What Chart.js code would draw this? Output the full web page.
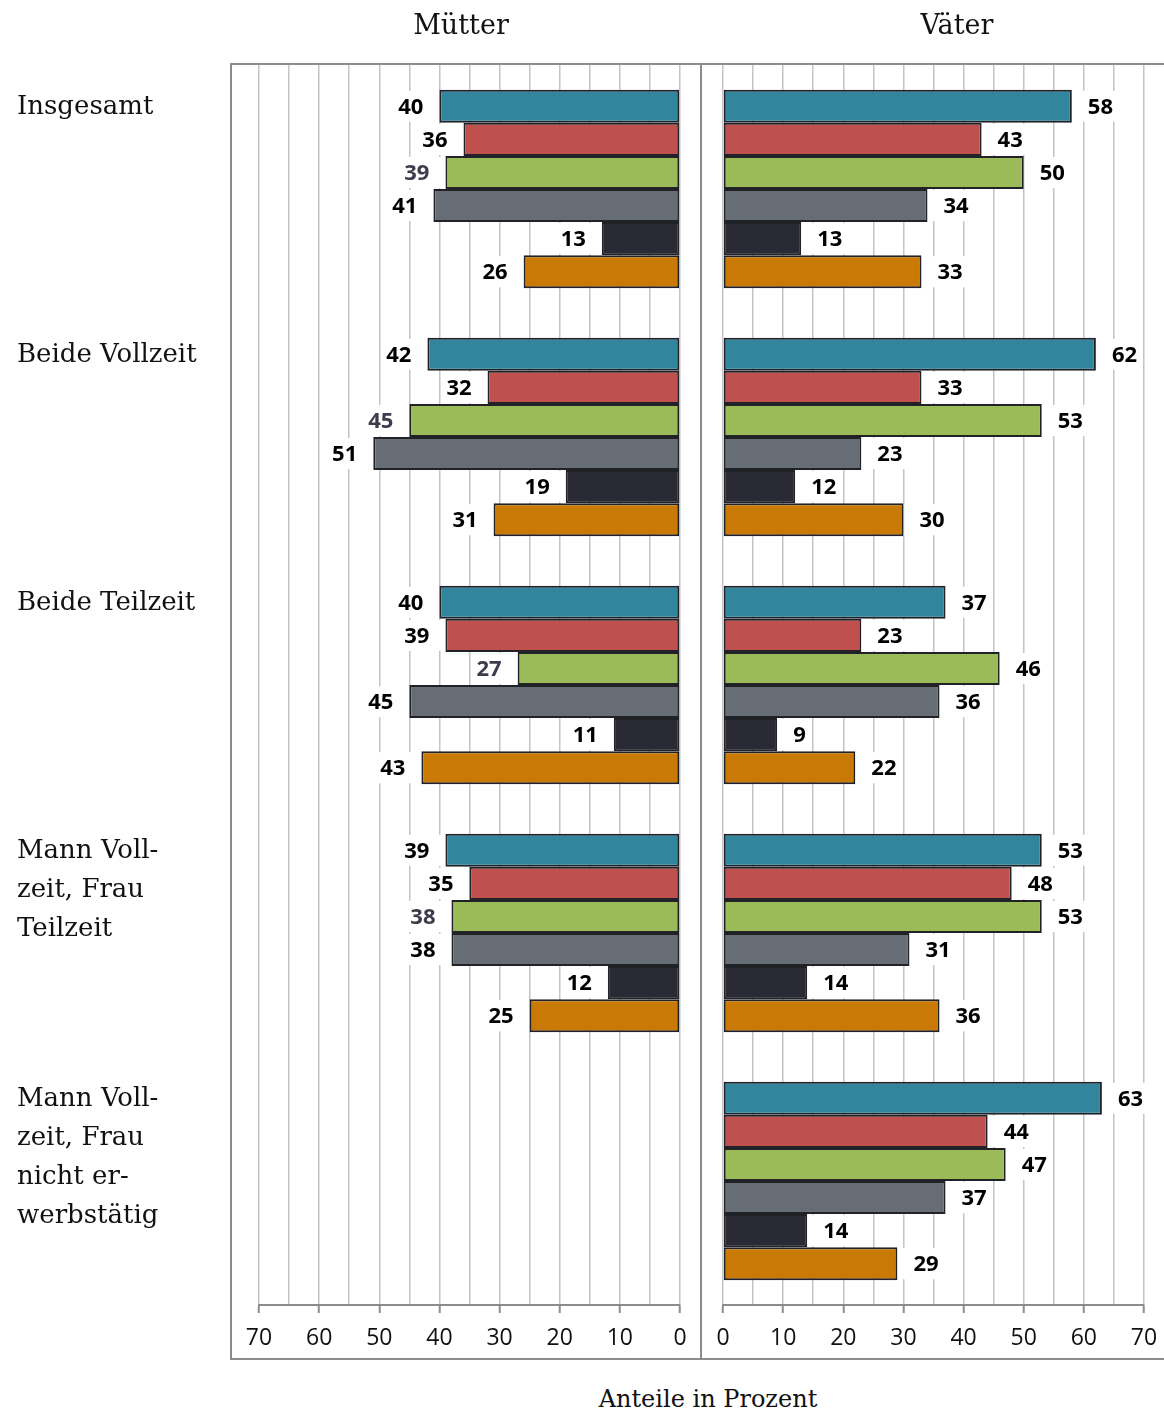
<!DOCTYPE html>
<html lang="de">
<head>
<meta charset="utf-8">
<title>Anteile in Prozent</title>
<script src="https://cdn.jsdelivr.net/npm/chart.js@4.4.1/dist/chart.umd.min.js"></script>
<style>
  body { margin: 0; background: #fff; }
  #wrap { position: relative; width: 1164px; height: 1411px; overflow: hidden; background: #fff; }
  #rahmen { position: absolute; left: 230px; top: 63px; width: 940px; height: 1293px; border: 2px solid #8c8c8c; }
  #trenner { position: absolute; left: 700px; top: 63px; width: 2px; height: 1295px; background: #8c8c8c; }
  canvas { position: absolute; top: 0; }
  #links { left: 0; }
  #rechts { left: 701px; }
  .titel { position: absolute; font-family: "DejaVu Serif", serif; color: #111; text-align: center; white-space: nowrap; }
</style>
</head>
<body>
<div id="wrap">
  <div id="rahmen"></div>
  <div id="trenner"></div>
  <canvas id="links" width="701" height="1358"></canvas>
  <canvas id="rechts" width="463" height="1358"></canvas>
  <div class="titel" style="left:361px; width:200px; top:10px; font-size:27px; line-height:30px;">Mütter</div>
  <div class="titel" style="left:857px; width:200px; top:10px; font-size:27px; line-height:30px;">Väter</div>
  <div class="titel" style="left:558px; width:300px; top:1384px; font-size:24px; line-height:30px;">Anteile in Prozent</div>
</div>
<script>
// Gruppen (Zeilen umbrochen wie im Original)
const kategorien = [
  ['Insgesamt'],
  ['Beide Vollzeit'],
  ['Beide Teilzeit'],
  ['Mann Voll-', 'zeit, Frau', 'Teilzeit'],
  ['Mann Voll-', 'zeit, Frau', 'nicht er-', 'werbstätig']
];

// Mütter, je Balkenreihe
const muetterA = [40, 42, 40, 39, null];
const muetterB = [36, 32, 39, 35, null];
const muetterC = [39, 45, 27, 38, null];
const muetterD = [41, 51, 45, 38, null];
const muetterE = [13, 19, 11, 12, null];
const muetterF = [26, 31, 43, 25, null];

// Väter, je Balkenreihe
const vaeterA = [58, 62, 37, 53, 63];
const vaeterB = [43, 33, 23, 48, 44];
const vaeterC = [50, 53, 46, 53, 47];
const vaeterD = [34, 23, 36, 31, 37];
const vaeterE = [13, 12, 9, 14, 14];
const vaeterF = [33, 30, 22, 36, 29];

// Achse 0 bis 70, Gitter alle 5, Beschriftung alle 10
const achseMin = 0;
const achseMax = 70;
const gitterSchritt = 5;
const beschriftungSchritt = 10;

const farben = ['#31859c', '#c0504d', '#9bbb59', '#666d74', '#292a33', '#c97a05'];
const randFarbe = '#202228';

function datensaetze(reihen) {
  return reihen.map((werte, i) => ({
    data: werte,
    backgroundColor: farben[i],
    borderColor: randFarbe,
    borderWidth: 2,
    borderSkipped: false,
    barPercentage: 1.0,
    categoryPercentage: 0.8
  }));
}

// Werte neben die Balkenenden schreiben, mit weißem Feld dahinter
const wertLabels = {
  id: 'wertLabels',
  afterDatasetsDraw(chart) {
    const ctx = chart.ctx;
    const links = chart.options.plugins.wertLabels.links;
    ctx.save();
    ctx.font = 'bold 22px "Open Sans", sans-serif';
    ctx.textBaseline = 'middle';
    chart.data.datasets.forEach((ds, di) => {
      const meta = chart.getDatasetMeta(di);
      meta.data.forEach((bar, i) => {
        const v = ds.data[i];
        if (v == null) return;
        const text = String(v);
        const w = ctx.measureText(text).width;
        const h = bar.height;
        const abstand = 16;
        ctx.fillStyle = '#fff';
        if (links) {
          const rechtsKante = bar.x - abstand;
          ctx.fillRect(rechtsKante - w - 4, bar.y - h / 2 + 1, bar.x - 1 - (rechtsKante - w - 4), h - 2);
          ctx.textAlign = 'right';
          ctx.fillStyle = di === 2 ? '#3c3c4c' : '#000';
          ctx.fillText(text, rechtsKante, bar.y + 1);
        } else {
          const linksKante = bar.x + abstand;
          ctx.fillRect(bar.x + 1, bar.y - h / 2 + 1, linksKante + w + 4 - bar.x - 1, h - 2);
          ctx.textAlign = 'left';
          ctx.fillStyle = '#000';
          ctx.fillText(text, linksKante, bar.y + 1);
        }
      });
    });
    ctx.restore();
  }
};

// Gruppennamen links neben dem Rahmen, am oberen Rand der Gruppe
const gruppenNamen = {
  id: 'gruppenNamen',
  afterDraw(chart) {
    if (!chart.options.plugins.gruppenNamen.zeigen) return;
    const ctx = chart.ctx;
    const y = chart.scales.y;
    const band = (y.bottom - y.top) / kategorien.length;
    ctx.save();
    ctx.font = '26px "DejaVu Serif", serif';
    ctx.fillStyle = '#111';
    ctx.textAlign = 'left';
    ctx.textBaseline = 'middle';
    kategorien.forEach((zeilen, i) => {
      const oben = y.getPixelForValue(i) - band * 0.4;
      zeilen.forEach((z, k) => {
        ctx.fillText(z, 17, oben + 17 + k * 39);
      });
    });
    ctx.restore();
  }
};

function optionen(umgekehrt, padding) {
  return {
    indexAxis: 'y',
    responsive: false,
    animation: false,
    layout: { padding: padding },
    plugins: {
      legend: { display: false },
      tooltip: { enabled: false },
      wertLabels: { links: umgekehrt },
      gruppenNamen: { zeigen: umgekehrt }
    },
    scales: {
      y: {
        type: 'category',
        display: false
      },
      x: {
        min: achseMin,
        max: achseMax,
        reverse: umgekehrt,
        afterFit(scale) {
          // feste Höhe, kein Überhang der Randbeschriftungen
          scale.height = 53;
          scale.paddingLeft = 0;
          scale.paddingRight = 0;
        },
        border: { color: '#8c8c8c', width: 2 },
        grid: {
          color: '#c4c4c4',
          lineWidth: 1.5,
          tickLength: 8,
          tickWidth: 2,
          tickColor: c => (c.tick && c.tick.value % beschriftungSchritt === 0) ? '#8c8c8c' : 'rgba(0,0,0,0)'
        },
        ticks: {
          stepSize: gitterSchritt,
          autoSkip: false,
          maxRotation: 0,
          padding: 12,
          color: '#111',
          font: { family: '"Open Sans", sans-serif', size: 23 },
          callback: v => v % beschriftungSchritt === 0 ? v : ''
        }
      }
    }
  };
}

const beschriftungen = kategorien.map(z => z.join(' '));

new Chart(document.getElementById('links'), {
  type: 'bar',
  data: {
    labels: beschriftungen,
    datasets: datensaetze([muetterA, muetterB, muetterC, muetterD, muetterE, muetterF])
  },
  options: optionen(true, { left: 259, right: 21, top: 65, bottom: 0 }),
  plugins: [wertLabels, gruppenNamen]
});

new Chart(document.getElementById('rechts'), {
  type: 'bar',
  data: {
    labels: beschriftungen,
    datasets: datensaetze([vaeterA, vaeterB, vaeterC, vaeterD, vaeterE, vaeterF])
  },
  options: optionen(false, { left: 22, right: 20, top: 65, bottom: 0 }),
  plugins: [wertLabels, gruppenNamen]
});
</script>
</body>
</html>
